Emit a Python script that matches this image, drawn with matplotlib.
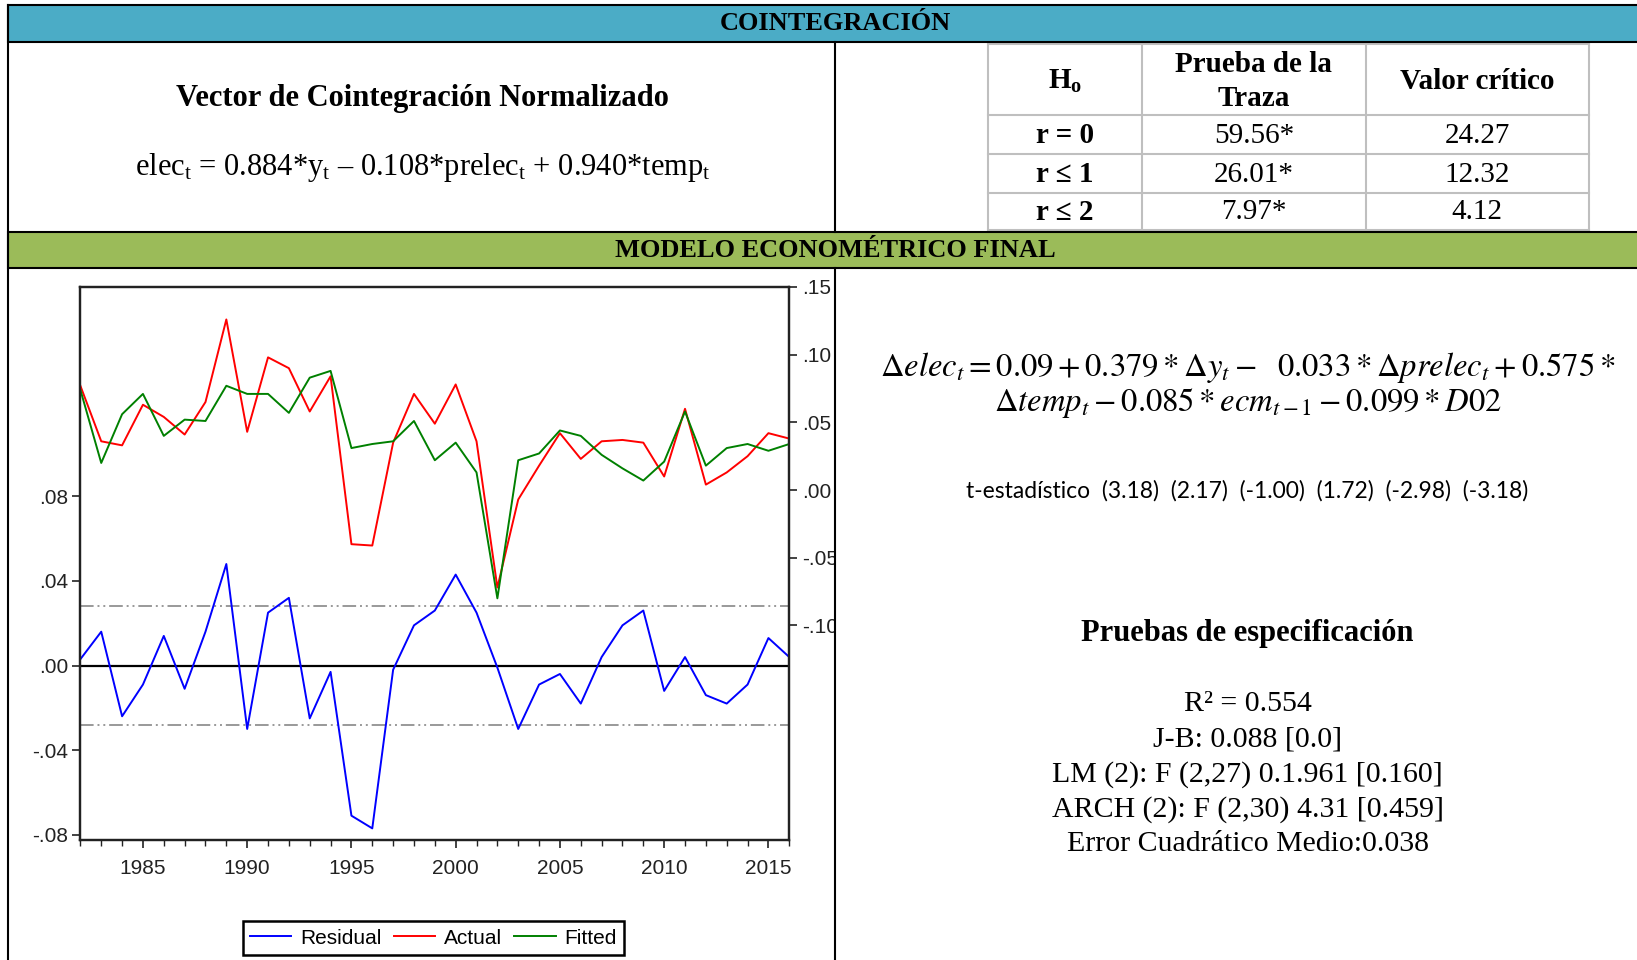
import numpy as np
import matplotlib.pyplot as plt
from matplotlib.patches import Rectangle
from matplotlib.lines import Line2D
from matplotlib.ticker import MultipleLocator, FixedLocator, FixedFormatter

# ----------------------------------------------------------------------------
# Data

years = np.arange(1982, 2017)

residual = [0.003, 0.016, -0.024, -0.009, 0.014, -0.011, 0.016, 0.048, -0.030, 0.025,
            0.032, -0.025, -0.003, -0.071, -0.077, -0.002, 0.019, 0.026, 0.043, 0.025,
            -0.001, -0.030, -0.009, -0.004, -0.018, 0.004, 0.019, 0.026, -0.012, 0.004,
            -0.014, -0.018, -0.009, 0.013, 0.004]

actual = [0.077, 0.036, 0.033, 0.063, 0.054, 0.041, 0.065, 0.126, 0.043, 0.098,
          0.090, 0.058, 0.084, -0.040, -0.041, 0.035, 0.071, 0.049, 0.078, 0.036,
          -0.072, -0.007, 0.018, 0.042, 0.023, 0.036, 0.037, 0.035, 0.010, 0.060,
          0.004, 0.013, 0.025, 0.042, 0.038]

fitted = [0.074, 0.020, 0.056, 0.071, 0.040, 0.052, 0.051, 0.077, 0.071, 0.071,
          0.057, 0.083, 0.088, 0.031, 0.034, 0.036, 0.051, 0.022, 0.035, 0.013,
          -0.080, 0.022, 0.027, 0.044, 0.040, 0.026, 0.016, 0.007, 0.021, 0.058,
          0.018, 0.031, 0.034, 0.029, 0.034]

resid_sd = 0.028

left_ticks = [-0.08, -0.04, 0.00, 0.04, 0.08]
left_labels = ["-.08", "-.04", ".00", ".04", ".08"]
right_ticks = [-0.10, -0.05, 0.00, 0.05, 0.10, 0.15]
right_labels = ["-.10", "-.05", ".00", ".05", ".10", ".15"]

table_header = ["H$_\\mathbf{o}$", "Prueba de la\nTraza", "Valor crítico"]
table_h0 = ["r = 0", "r ≤ 1", "r ≤ 2"]
table_traza = ["59.56*", "26.01*", "7.97*"]
table_critico = ["24.27", "12.32", "4.12"]

t_stats = ["(3.18)", "(2.17)", "(-1.00)", "(1.72)", "(-2.98)", "(-3.18)"]

spec_tests = ["R² = 0.554",
              "J-B: 0.088 [0.0]",
              "LM (2): F (2,27) 0.1.961 [0.160]",
              "ARCH (2): F (2,30) 4.31 [0.459]",
              "Error Cuadrático Medio:0.038"]

# ----------------------------------------------------------------------------
# Layout helpers (reference layout units, 1568 x 920)

W, H = 1568, 920

def fx(x):
    return x / W

def fy(y):
    return 1 - y / H

SERIF = ['Liberation Serif', 'DejaVu Serif']
NARROW = ['Liberation Sans Narrow', 'Liberation Sans', 'DejaVu Sans']

plt.rcParams['mathtext.fontset'] = 'custom'
plt.rcParams['mathtext.rm'] = 'Liberation Serif'
plt.rcParams['mathtext.it'] = 'Liberation Serif:italic'
plt.rcParams['mathtext.bf'] = 'Liberation Serif:bold'

fig = plt.figure(figsize=(16.37, 9.6), dpi=100)

def hline(y, x0, x1, color='black', lw=1.5, z=6):
    fig.add_artist(Line2D([fx(x0), fx(x1)], [fy(y), fy(y)], color=color, lw=lw, zorder=z))

def vline(x, y0, y1, color='black', lw=1.5, z=6):
    fig.add_artist(Line2D([fx(x), fx(x)], [fy(y0), fy(y1)], color=color, lw=lw, zorder=z))

# ----------------------------------------------------------------------------
# Section bands

fig.add_artist(Rectangle((fx(8), fy(40)), 1.0, fy(5) - fy(40), transform=fig.transFigure,
                         facecolor='#4BACC6', edgecolor='black', lw=1.5, zorder=6))
fig.add_artist(Rectangle((fx(8), fy(257)), 1.0, fy(222) - fy(257), transform=fig.transFigure,
                         facecolor='#9BBB59', edgecolor='black', lw=1.5, zorder=6))
fig.text(fx(800), fy(23), "COINTEGRACIÓN", family=SERIF, weight='bold', fontsize=19,
         ha='center', va='center', zorder=7)
fig.text(fx(800), fy(240), "MODELO ECONOMÉTRICO FINAL", family=SERIF, weight='bold',
         fontsize=19, ha='center', va='center', zorder=7)

vline(8, 5, 925)
vline(800, 40, 222)

# ----------------------------------------------------------------------------
# Cointegration vector

fig.text(fx(405), fy(94), "Vector de Cointegración Normalizado", family=SERIF,
         weight='bold', fontsize=22, ha='center', va='center')
fig.text(fx(405), fy(161),
         "elec$_\\mathrm{t}$ = 0.884*y$_\\mathrm{t}$ – 0.108*prelec$_\\mathrm{t}$ + 0.940*temp$_\\mathrm{t}$",
         family=SERIF, fontsize=22, ha='center', va='center')

# ----------------------------------------------------------------------------
# Trace test table

cols = [946, 1094, 1308, 1522]
rows = [42, 110, 148, 185, 220]
for c in cols:
    vline(c, rows[0], rows[-1], color='#BFBFBF', lw=1.5, z=5)
for r in rows:
    hline(r, cols[0], cols[-1], color='#BFBFBF', lw=1.5, z=5)

cx = [(cols[i] + cols[i + 1]) / 2 for i in range(3)]
cy = [(rows[i] + rows[i + 1]) / 2 for i in range(4)]
for i, lab in enumerate(table_header):
    fig.text(fx(cx[i]), fy(cy[0] + 2), lab, family=SERIF, weight='bold', fontsize=21,
             ha='center', va='center', linespacing=1.35)
for j in range(3):
    fig.text(fx(cx[0]), fy(cy[j + 1] + 1), table_h0[j], family=SERIF, weight='bold',
             fontsize=21, ha='center', va='center')
    fig.text(fx(cx[1]), fy(cy[j + 1] + 1), table_traza[j], family=SERIF, fontsize=21,
             ha='center', va='center')
    fig.text(fx(cx[2]), fy(cy[j + 1] + 1), table_critico[j], family=SERIF, fontsize=21,
             ha='center', va='center')

# ----------------------------------------------------------------------------
# Residual / Actual / Fitted chart

ax = fig.add_axes([fx(77), fy(805), fx(756) - fx(77), fy(275) - fy(805)])
ax2 = ax.twinx()

ax.axhline(0, color='black', lw=1.6, zorder=1)
for s in (resid_sd, -resid_sd):
    ax.axhline(s, color='#999999', lw=1.4, ls=(0, (7, 2, 1, 2, 1, 2)), zorder=1)
l_res, = ax.plot(years, residual, color='#0000FF', lw=1.4, zorder=2)
l_act, = ax2.plot(years, actual, color='#FF0000', lw=1.4)
l_fit, = ax2.plot(years, fitted, color='#008000', lw=1.4)

ax.set_xlim(1982, 2016)
ax.set_ylim(-0.0825, 0.179)
ax2.set_ylim(-0.2585, 0.15)

ax.xaxis.set_major_locator(FixedLocator([1985, 1990, 1995, 2000, 2005, 2010, 2015]))
ax.xaxis.set_minor_locator(MultipleLocator(1))
ax.yaxis.set_major_locator(FixedLocator(left_ticks))
ax.yaxis.set_major_formatter(FixedFormatter(left_labels))
ax2.yaxis.set_major_locator(FixedLocator(right_ticks))
ax2.yaxis.set_major_formatter(FixedFormatter(right_labels))

for a in (ax, ax2):
    a.tick_params(which='major', direction='out', length=6, width=1.2, colors='#222222',
                  labelsize=15, pad=3)
    a.tick_params(which='minor', direction='out', length=4, width=1.0, colors='#222222')
    for sp in a.spines.values():
        sp.set_linewidth(1.6)
        sp.set_color('#222222')
    for lbl in a.get_xticklabels() + a.get_yticklabels():
        lbl.set_family(NARROW)
ax.tick_params(axis='x', pad=8)

fig.legend([l_res, l_act, l_fit], ["Residual", "Actual", "Fitted"], loc='center',
           bbox_to_anchor=(fx(415), fy(899)), ncol=3, frameon=True, fancybox=False,
           edgecolor='black', framealpha=1, prop={'family': NARROW, 'size': 15},
           handlelength=2.0, columnspacing=0.6, handletextpad=0.4, borderpad=0.35)
fig.legends[0].get_frame().set_linewidth(1.8)

# clip right-axis labels at the divider
fig.add_artist(Rectangle((fx(801), fy(700)), fx(830) - fx(801), fy(258) - fy(700),
                         transform=fig.transFigure, facecolor='white', edgecolor='none',
                         zorder=5))
vline(800, 257, 925)

# ----------------------------------------------------------------------------
# Error-correction model

fig.text(fx(1195), fy(352),
         r"$\Delta elec_t = 0.09 + 0.379 * \Delta y_t -\ \ 0.033 * \Delta prelec_t + 0.575 *$",
         fontsize=23.5, ha='center', va='center', math_fontfamily='stix')
fig.text(fx(1195), fy(386),
         r"$\Delta temp_t - 0.085 * ecm_{t-1} - 0.099 * D02$",
         fontsize=23.5, ha='center', va='center', math_fontfamily='stix')
fig.text(fx(1195), fy(470), "t-estadístico  " + "  ".join(t_stats),
         family=['Lato', 'DejaVu Sans'], fontsize=16.5, ha='center', va='center')

fig.text(fx(1195), fy(607), "Pruebas de especificación", family=SERIF, weight='bold',
         fontsize=22, ha='center', va='center')
for i, s in enumerate(spec_tests):
    fig.text(fx(1195), fy(675 + 33.5 * i), s, family=SERIF, fontsize=21.5,
             ha='center', va='center')

fig.savefig("out.png", dpi=100)
